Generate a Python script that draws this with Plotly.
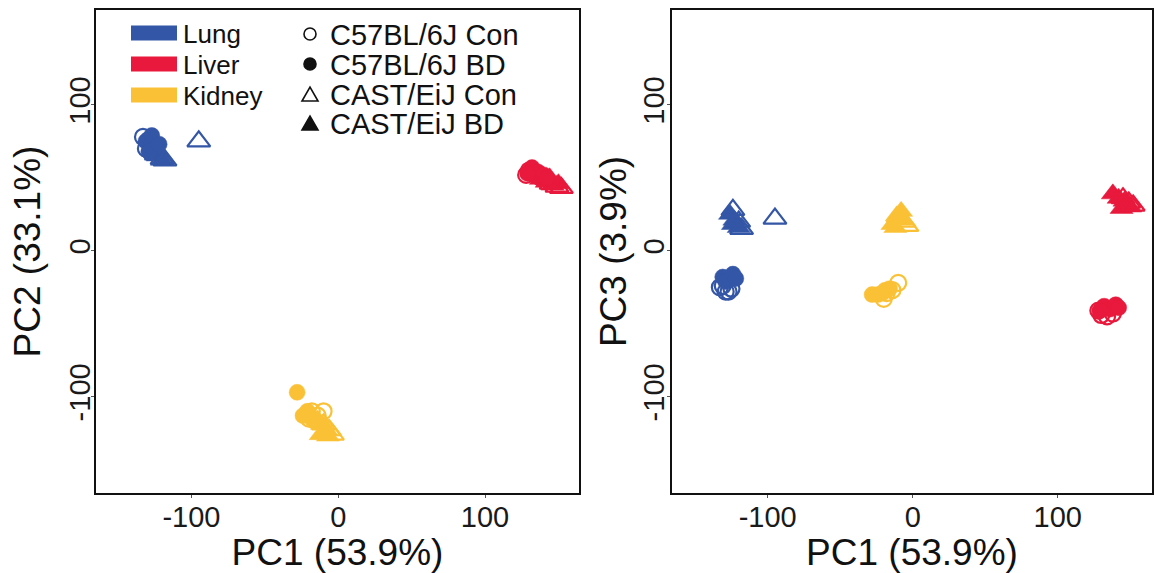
import plotly.graph_objects as go

W, H = 1154, 573

# ---------------- data ----------------
tissues = ["Lung", "Liver", "Kidney"]
tissue_colors = {"Lung": "#3456A6", "Liver": "#E8193C", "Kidney": "#FBC136"}
groups = ["C57BL/6J Con", "C57BL/6J BD", "CAST/EiJ Con", "CAST/EiJ BD"]
group_symbols = {
    "C57BL/6J Con": "circle-open",
    "C57BL/6J BD": "circle",
    "CAST/EiJ Con": "triangle-up-open",
    "CAST/EiJ BD": "triangle-up",
}

# Lung samples
lung_group = ["C57BL/6J Con"] * 5 + ["C57BL/6J BD"] * 5 + ["CAST/EiJ Con"] * 4 + ["CAST/EiJ BD"] * 4
lung_pc1 = [-133, -129, -125, -131, -127,  -131, -127, -124, -129, -122,  -124, -120, -118, -95,  -126, -123, -124, -120]
lung_pc2 = [78, 76, 72, 70, 74,  75, 79, 71, 68, 73,  66, 63, 62, 75,  68, 65, 70, 62]
lung_pc3 = [-25, -28, -26, -24, -28,  -18, -20, -16, -21, -19,  28, 20, 15, 22,  25, 21, 18, 16]

# Liver samples
liver_group = ["C57BL/6J Con"] * 4 + ["C57BL/6J BD"] * 5 + ["CAST/EiJ Con"] * 3 + ["CAST/EiJ BD"] * 5
liver_pc1 = [130, 134, 138, 128,  132, 136, 140, 142, 129,  145, 149, 152,  138, 142, 146, 150, 144]
liver_pc2 = [55, 53, 50, 52,  57, 54, 52, 50, 53,  46, 44, 43,  49, 47, 45, 46, 50]
liver_pc3 = [-44, -45, -43, -41,  -38, -40, -37, -39, -41,  36, 33, 31,  39, 36, 34, 30, 29]

# Kidney samples
kidney_group = ["C57BL/6J Con"] * 4 + ["C57BL/6J BD"] * 5 + ["CAST/EiJ Con"] * 3 + ["CAST/EiJ BD"] * 5
kidney_pc1 = [-18, -14, -10, -20,  -28, -21, -19, -16, -24,  -10, -6, -4,  -14, -11, -8, -12, -7]
kidney_pc2 = [-110, -113, -110, -115,  -97, -110, -114, -117, -113,  -119, -123, -126,  -116, -119, -123, -126, -127]
kidney_pc3 = [-29, -27, -22, -33,  -30, -29, -27, -26, -30,  23, 20, 17,  18, 24, 27, 16, 21]

tissue_data = {
    "Lung": (lung_group, lung_pc1, lung_pc2, lung_pc3),
    "Liver": (liver_group, liver_pc1, liver_pc2, liver_pc3),
    "Kidney": (kidney_group, kidney_pc1, kidney_pc2, kidney_pc3),
}

tick_vals = [-100, 0, 100]
tick_text = ["-100", "0", "100"]
x_title = "PC1 (53.9%)"
y_titles = ["PC2 (33.1%)", "PC3 (3.9%)"]

# ---------------- figure ----------------
fig = go.Figure()

draw_order = ["CAST/EiJ BD", "CAST/EiJ Con", "C57BL/6J Con", "C57BL/6J BD"]
for panel, (xa, ya) in enumerate([("x", "y"), ("x2", "y2")]):
    for t in tissues:
        grp, pc1, pc2, pc3 = tissue_data[t]
        yvals = pc2 if panel == 0 else pc3
        col = tissue_colors[t]
        for g in draw_order:
            xs = [pc1[i] for i in range(len(grp)) if grp[i] == g]
            ys = [yvals[i] for i in range(len(grp)) if grp[i] == g]
            sym = group_symbols[g]
            is_tri = "triangle" in sym
            is_open = sym.endswith("open")
            fig.add_trace(go.Scatter(
                x=xs, y=ys, xaxis=xa, yaxis=ya, mode="markers",
                showlegend=False, name=f"{t} {g}",
                marker=dict(symbol=sym, size=20 if is_tri else 16, color=col,
                            line=dict(color=col, width=2.2 if is_open else 0.5)),
            ))

def fx(px):
    return px / W

def fy(py):
    return 1 - py / H

L1, R1, L2, R2, T, B = 96, 579, 672, 1152, 10, 493

axis_common = dict(
    showgrid=False, zeroline=False, showline=True, mirror=True,
    linecolor="#111", linewidth=1.6, ticks="outside", ticklen=3,
    tickcolor="#555", tickwidth=1,
    tickvals=tick_vals, ticktext=tick_text,
    tickfont=dict(family="Liberation Sans, Arial", size=29, color="#1a1a1a"),
)
title_font = dict(family="Liberation Sans, Arial", size=37, color="#111")

fig.update_layout(
    width=W, height=H, margin=dict(l=0, r=0, t=0, b=0),
    paper_bgcolor="white", plot_bgcolor="white", showlegend=False,
    xaxis=dict(domain=[fx(L1), fx(R1)], range=[-165, 164], anchor="y", ticklabelstandoff=-6,
               title=dict(text=x_title, font=title_font, standoff=2), **axis_common),
    yaxis=dict(domain=[fy(B), fy(T)], range=[-166, 165], anchor="x", tickangle=-90,
               ticklabelstandoff=-10,
               title=dict(text=y_titles[0], font=title_font, standoff=12), **axis_common),
    xaxis2=dict(domain=[fx(L2), fx(R2)], range=[-166, 165], anchor="y2", ticklabelstandoff=-6,
                title=dict(text=x_title, font=title_font, standoff=2), **axis_common),
    yaxis2=dict(domain=[fy(B), fy(T)], range=[-166, 165], anchor="x2", tickangle=-90,
                ticklabelstandoff=-8,
                title=dict(text=y_titles[1], font=title_font, standoff=0), **axis_common),
)

# ---------------- custom legend ----------------
shapes = []
annotations = []
sw_rows = [33, 64, 95]
for t, yc in zip(tissues, sw_rows):
    shapes.append(dict(type="rect", xref="paper", yref="paper",
                       x0=fx(131), x1=fx(177), y0=fy(yc - 7.5), y1=fy(yc + 7.5),
                       fillcolor=tissue_colors[t], line=dict(width=0)))
    annotations.append(dict(text=t, xref="paper", yref="paper", x=fx(181), y=fy(yc + 1),
                            xanchor="left", yanchor="middle", showarrow=False,
                            font=dict(family="Liberation Sans, Arial", size=26, color="#111")))

sym_rows = [34, 64, 94, 123]
sx = 310
for g, yc in zip(groups, sym_rows):
    sym = group_symbols[g]
    filled = not sym.endswith("open")
    if "circle" in sym:
        shapes.append(dict(type="circle", xref="paper", yref="paper",
                           x0=fx(sx - 6), x1=fx(sx + 6), y0=fy(yc + 6), y1=fy(yc - 6),
                           fillcolor="#111" if filled else "white",
                           line=dict(color="#111", width=1.6)))
    else:
        path = (f"M {fx(sx - 8)} {fy(yc + 7)} L {fx(sx + 8)} {fy(yc + 7)} "
                f"L {fx(sx)} {fy(yc - 7)} Z")
        shapes.append(dict(type="path", xref="paper", yref="paper", path=path,
                           fillcolor="#111" if filled else "white",
                           line=dict(color="#111", width=1.6)))
    annotations.append(dict(text=g, xref="paper", yref="paper", x=fx(328), y=fy(yc + 1),
                            xanchor="left", yanchor="middle", showarrow=False,
                            font=dict(family="Liberation Sans, Arial", size=29, color="#111")))

fig.update_layout(shapes=shapes, annotations=annotations)

fig.write_html("out.html", config={"displayModeBar": False},
               post_script="document.body.style.margin='0';")
